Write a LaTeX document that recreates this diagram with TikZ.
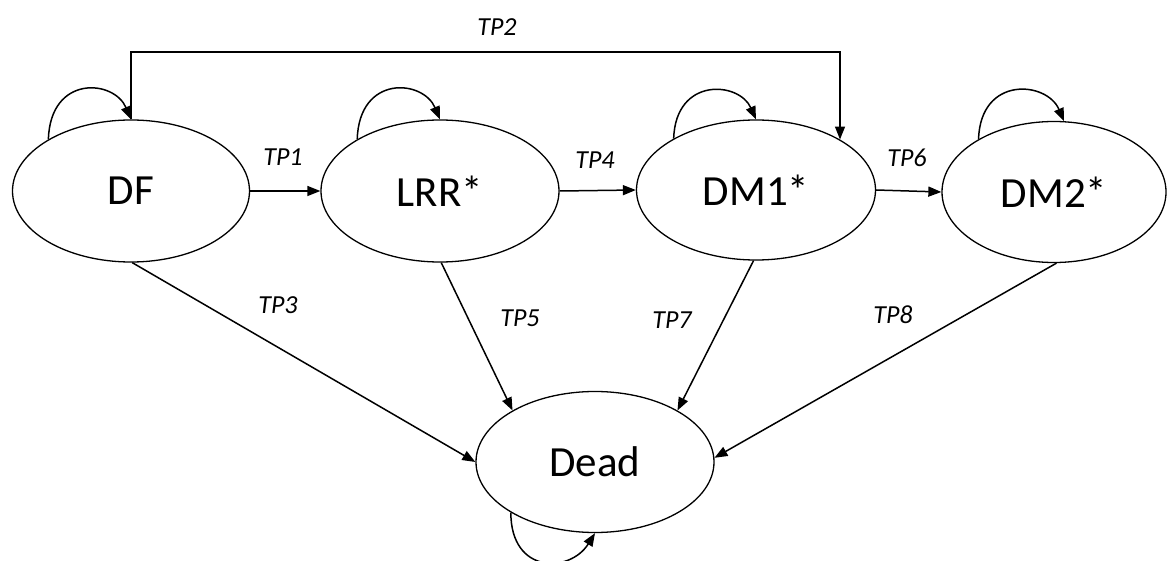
\documentclass[tikz,border=0pt]{standalone}
\usepackage{fontspec}
\setmainfont{Carlito}
\usetikzlibrary{shapes.geometric,arrows.meta}
\begin{document}
\begin{tikzpicture}[x=1pt,y=-1pt,
  state/.style={ellipse,draw,line width=1.3pt,inner sep=0pt,font=\fontsize{43}{48}\selectfont},
  conn/.style={line width=1.5pt,-{Triangle[length=13pt,width=10pt]}},
  tplabel/.style={font=\fontsize{26}{30}\selectfont\itshape,inner sep=0pt}]
\useasboundingbox[fill=white] (0,0) rectangle (1168,561);
% states
\node[state,minimum width=237pt,minimum height=142pt] (DF)   at (131,191) {DF};
\node[state,minimum width=238pt,minimum height=142pt] (LRR)  at (440,191) {LRR*};
\node[state,minimum width=239pt,minimum height=140pt] (DM1)  at (756,190) {DM1*};
\node[state,minimum width=224pt,minimum height=141pt] (DM2)  at (1054,192) {DM2*};
\node[state,minimum width=238pt,minimum height=141pt] (Dead) at (595,462) {Dead};
% self loops
\draw[conn] (DF.148)  .. controls +(2,-65) and +(-17,-40) .. (DF.90);
\draw[conn] (LRR.148) .. controls +(2,-65) and +(-17,-40) .. (LRR.90);
\draw[conn] (DM1.148) .. controls +(2,-62) and +(-17,-38) .. (DM1.90);
\draw[conn] (DM2.145) .. controls +(2,-64) and +(-17,-40) .. (DM2.82);
\draw[conn] (Dead.211) .. controls +(0,62) and +(-25,40) .. (Dead.270);
% horizontal transitions
\draw[conn] (DF.east) -- (LRR.west);
\draw[conn] (LRR.east) -- (DM1.west);
\draw[conn] (DM1.east) -- (DM2.west);
% TP2 top connector
\coordinate (tp2l) at (131,52);
\coordinate (tp2r) at (840,52);
\draw[conn] (DF.north) -- (tp2l) -- (tp2r) -- (tp2r |- DM1.31);
% to Dead
\draw[conn] (DF.271)  -- (Dead.180);
\draw[conn] (LRR.271) -- (Dead.148);
\draw[conn] (DM1.268) -- (Dead.32);
\draw[conn] (DM2.272) -- (Dead.2);
% labels
\node[tplabel] (l1) at (283,157) {TP1};
\node[tplabel] (l2) at (497,27)  {TP2};
\node[tplabel] (l3) at (278,305) {TP3};
\node[tplabel] (l4) at (595,160) {TP4};
\node[tplabel] (l5) at (520,318) {TP5};
\node[tplabel] (l6) at (907,158) {TP6};
\node[tplabel] (l7) at (672,320) {TP7};
\node[tplabel] (l8) at (893,315) {TP8};
\end{tikzpicture}
\end{document}
